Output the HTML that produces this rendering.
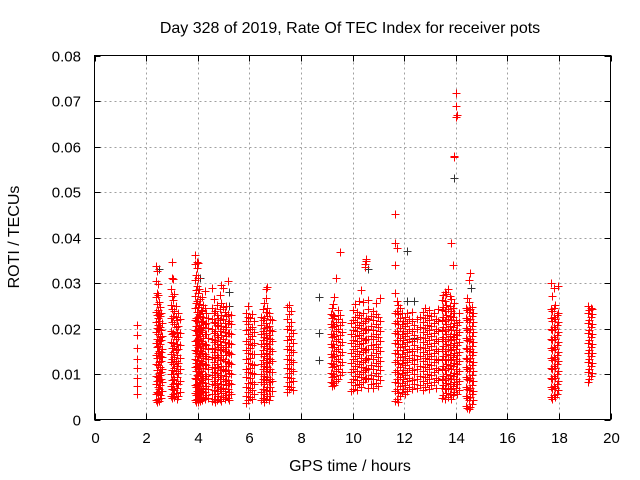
<!DOCTYPE html>
<html><head><meta charset="utf-8"><style>
html,body{margin:0;padding:0;background:#fff;}
svg{display:block;font-family:"Liberation Sans",sans-serif;}
</style></head><body>
<svg id="chart" width="640" height="480" viewBox="0 0 640 480">
<text x="350" y="33" text-anchor="middle" font-size="16">Day 328 of 2019, Rate Of TEC Index for receiver pots</text>
<text x="350" y="471" text-anchor="middle" font-size="16">GPS time / hours</text>
<text transform="translate(19,237) rotate(-90)" text-anchor="middle" font-size="16">ROTI / TECUs</text>
<g id="grid"></g>
<g id="ticks"></g>
<g id="black"></g>
<g id="red"></g>
<rect x="94.5" y="55.5" width="516" height="364" fill="none" stroke="#000" stroke-width="1"/>
</svg>
<script>
const xTicks=[0,2,4,6,8,10,12,14,16,18,20];
const yTicks=[0,0.01,0.02,0.03,0.04,0.05,0.06,0.07,0.08];
const yTickLabels=["0","0.01","0.02","0.03","0.04","0.05","0.06","0.07","0.08"];
// red series: each row = [hour, ROTI values in 0.001 TECU/min ...]
const redColumns=[
[1.65,5.6,7.3,9.1,11.4,13.2,15.7,18.6,20.8],
[2.38,4.2,5.7,7.9,9.6,12.3,14.1,16.8,19.2,21.5,23.7,26.9,30.4,33.8],
[2.42,3.9,6.1,8.4,10.8,13.5,15.9,17.6,20.1,22.9,25.3,27.8,32.6],
[2.46,4.6,5.9,7.1,9.3,11.9,14.6,16.2,18.9,20.7,22.4,24.1,27.3,29.8],
[2.5,4.1,6.8,8.7,10.2,12.7,15.1,17.3,19.8,21.6,23.2,25.9],
[2.54,5.3,7.6,9.8,11.6,13.9,16.5,18.1,20.4,22.7,24.8],
[2.58,4.7,6.3,8.9,10.5,12.9,14.8,17.4,19.6,23.3],
[2.62,6.2,8.2,11.1,13.7,15.4,18.3,21.2],
[2.95,5.1,7.4,9.9,12.6,14.4,17.1,19.5,22.2,25.1,28.6],
[3.0,4.8,6.7,8.6,10.9,13.3,15.8,18.7,21.4,24.3,27.1,31.2,34.7],
[3.05,5.5,7.8,10.1,12.2,14.9,16.9,19.1,22.8,26.2,30.8],
[3.1,4.9,6.4,8.8,11.3,13.8,16.1,18.4,20.9,23.8,27.6],
[3.15,5.8,8.1,10.6,12.8,15.2,17.7,20.3,22.6,24.9],
[3.2,4.5,6.9,9.4,11.7,14.2,16.6,19.3,21.8],
[3.25,5.2,7.7,10.3,12.4,15.6,18.2,20.6,23.4],
[3.32,6.0,8.5,11.0,13.6,16.3,19.0,22.1],
[3.88,4.3,5.8,7.5,9.2,11.5,13.4,15.3,17.2,19.7,21.9,24.5,27.2,30.6,34.1,36.2],
[3.92,3.8,5.4,7.2,8.9,10.7,12.5,14.7,16.4,18.5,20.5,22.3,25.6,28.4,31.7],
[3.96,4.4,6.2,7.8,9.7,11.8,13.1,15.0,17.5,19.4,21.7,23.6,26.1,29.3,33.4,34.6],
[4.0,3.9,5.6,7.4,9.5,11.2,13.9,15.9,17.8,19.9,22.5,24.7,27.9,31.1,34.3],
[4.04,4.6,6.5,8.3,10.4,12.1,14.3,16.7,18.8,20.8,23.1,25.4,28.7],
[4.08,4.1,5.9,8.0,9.9,12.0,14.5,16.2,18.3,20.2,22.8,26.5],
[4.12,4.8,6.6,8.6,10.6,12.9,15.1,17.3,19.6,21.4,24.0],
[4.16,4.2,6.3,8.2,10.1,12.4,14.6,16.9,19.2,21.6,23.9,27.0],
[4.22,5.0,7.0,9.1,11.3,13.6,15.8,18.0,20.4,22.6,25.2],
[4.28,4.4,6.1,8.1,10.0,12.2,14.4,16.6,18.7,21.0,24.4,28.2],
[4.34,5.3,7.3,9.6,11.9,14.0,16.4,18.9,21.3,23.5],
[4.4,4.7,6.8,8.9,11.1,13.3,15.5,17.9,20.1,22.2],
[4.55,4.0,5.7,7.7,9.8,11.6,13.8,15.7,17.6,20.0,22.1,24.6,28.9],
[4.62,4.5,6.4,8.4,10.5,12.7,14.9,17.0,19.1,21.5,23.3,26.4],
[4.68,3.9,5.5,7.6,9.4,11.4,13.5,15.6,17.4,19.5,21.2,23.8],
[4.74,4.3,6.2,8.0,10.2,12.3,14.2,16.5,18.6,20.7,22.9,25.1],
[4.8,5.1,7.1,9.3,11.5,13.7,15.9,18.2,20.5,22.4],
[4.86,4.6,6.7,8.8,10.9,13.0,15.2,17.2,19.4,21.8,24.2,27.4],
[4.92,4.1,5.8,7.9,9.7,11.8,14.1,16.3,18.5,20.6,23.0,25.7,29.6],
[4.98,5.0,6.9,9.0,11.2,13.4,15.4,17.7,19.8,22.0,24.8,28.8],
[5.04,4.4,6.3,8.5,10.7,12.8,15.0,17.1,19.3,21.1,23.6],
[5.1,5.4,7.5,9.5,11.7,14.1,16.0,18.4,20.3,22.7,25.0],
[5.16,4.8,6.6,8.7,10.8,12.6,14.8,16.8,19.0,21.3,23.2,30.4],
[5.22,4.2,6.0,8.1,10.3,12.4,14.6,16.9,19.1,21.7],
[5.28,5.6,7.7,9.9,12.1,14.3,16.5,18.8,21.0,22.9],
[5.88,3.6,5.2,7.2,9.3,11.1,13.2,15.3,17.3,19.6,21.7,23.4],
[5.95,4.3,6.0,8.1,10.4,12.5,14.6,16.6,18.8,20.9,22.6,24.9],
[6.02,5.0,7.0,9.2,11.4,13.5,15.7,17.8,20.0,22.3],
[6.1,4.6,6.4,8.3,10.3,12.2,14.3,16.4,18.3,20.4,23.1],
[6.18,5.6,7.8,9.9,12.0,14.4,16.9,19.2,21.6],
[6.45,4.2,6.1,8.2,10.1,12.3,14.5,16.5,18.7,20.8,22.5],
[6.52,4.8,6.7,8.8,11.0,13.1,15.2,17.4,19.5,21.9,24.3],
[6.58,3.9,5.6,7.7,9.6,11.7,13.9,16.1,18.2,20.2,22.4,25.6],
[6.64,4.5,6.5,8.6,10.6,12.7,14.7,16.8,19.1,21.2,23.7,26.8,28.6],
[6.7,5.2,7.2,9.4,11.5,13.6,15.8,18.0,20.3,22.8,24.6,29.1],
[6.76,4.3,6.2,8.3,10.4,12.4,14.4,16.6,18.6,20.6,23.3],
[6.82,5.1,7.1,9.0,11.2,13.2,15.4,17.6,19.7,22.1],
[6.88,6.3,8.4,10.5,12.8,15.1,17.3,19.5,21.8],
[7.48,6.0,7.4,9.3,11.3,13.4,15.6,17.5,19.9,22.0,24.7],
[7.55,6.6,8.2,10.2,12.1,14.2,16.2,18.4,20.5,23.2,25.1],
[7.62,7.1,9.1,11.0,13.0,15.3,17.7,19.6,21.4,23.8],
[7.7,6.4,8.5,10.6,12.6,14.8,16.9,19.0],
[9.15,8.2,10.3,12.4,14.5,16.7,18.8,21.0,23.1],
[9.2,7.4,9.4,11.6,13.7,15.9,18.1,20.3,22.4,24.6],
[9.25,8.0,10.1,12.3,14.4,16.6,18.7,20.9,23.0,25.3],
[9.3,7.6,9.6,11.8,13.9,16.0,18.3,20.6,22.7,26.9],
[9.35,8.5,10.7,12.9,15.0,17.2,19.4,21.5,31.2],
[9.42,9.0,11.1,13.3,15.5,17.6,19.8,22.0,24.1],
[9.5,9.7,11.9,14.1,16.3,18.6,20.8,22.9,36.9],
[9.58,10.5,12.6,14.9,17.1,19.3,21.4],
[9.95,6.2,8.3,10.4,12.5,14.6,16.8,18.9,21.1],
[10.02,6.8,8.9,11.0,13.2,15.4,17.5,19.7,21.9,24.0],
[10.1,7.5,9.6,11.8,14.0,16.1,18.3,20.4,22.6,25.4],
[10.18,6.5,8.6,10.7,12.8,15.0,17.2,19.4,21.5,23.6],
[10.26,7.9,10.0,12.2,14.3,16.5,18.6,20.8,23.0,26.1],
[10.34,7.2,9.3,11.5,13.6,15.8,17.9,20.1,22.3,28.4],
[10.42,8.3,10.4,12.6,14.8,16.9,19.1,21.3,23.4,25.8],
[10.48,8.8,10.9,13.1,15.2,17.4,19.6,21.7,34.2,33.5],
[10.54,9.2,11.3,13.5,15.6,17.8,19.9,22.2,34.8,35.3],
[10.6,7.0,9.1,11.2,13.4,15.5,17.7,19.8,22.0,24.2,26.3],
[10.7,7.7,9.8,12.0,14.1,16.3,18.4,20.6,22.8],
[10.8,6.9,9.0,11.1,13.3,15.4,17.6,19.7,21.8,23.9],
[10.9,8.1,10.2,12.4,14.6,16.7,18.9,21.0,23.2,25.5],
[11.0,7.4,9.5,11.7,13.8,16.0,18.1,20.3,22.5],
[11.08,8.6,10.8,12.9,15.1,17.3,19.4,21.6,26.7],
[11.65,4.1,6.2,8.3,10.4,12.6,14.7,16.9,19.0,21.2,23.4,27.8,33.9,38.7,45.1],
[11.72,4.6,6.7,8.8,10.9,13.1,15.2,17.4,19.5,21.7,23.8,26.0,37.6],
[11.78,3.9,5.9,8.0,10.1,12.3,14.4,16.6,18.7,20.9,23.1,25.2],
[11.84,5.2,7.3,9.4,11.6,13.7,15.9,18.0,20.2,22.4,24.5],
[11.9,6.0,8.1,10.2,12.4,14.5,16.7,18.8,21.0,23.3],
[11.96,6.7,8.8,10.9,13.1,15.2,17.4,19.5,21.7],
[12.02,5.5,7.6,9.7,11.9,14.0,16.2,18.3,20.5,22.6],
[12.1,6.3,8.4,10.5,12.7,14.8,17.0,19.1,21.3,23.5],
[12.2,7.1,9.2,11.3,13.5,15.6,17.8,19.9,22.1],
[12.3,6.6,8.7,10.8,13.0,15.1,17.3,19.4,21.6,23.7],
[12.4,7.8,9.9,12.1,14.2,16.4,18.5,20.7],
[12.5,6.9,9.0,11.2,13.3,15.5,17.6,19.8,22.0],
[12.6,7.5,9.6,11.7,13.9,16.0,18.2,20.3,22.5],
[12.75,6.4,8.5,10.6,12.8,14.9,17.1,19.2,21.4,23.6],
[12.82,7.2,9.3,11.5,13.6,15.8,17.9,20.1,22.2,24.4],
[12.9,8.0,10.1,12.2,14.4,16.5,18.7,20.8,23.0],
[12.98,6.8,8.9,11.0,13.2,15.3,17.5,19.6,21.8,24.1],
[13.06,7.6,9.7,11.9,14.0,16.2,18.3,20.5,22.7],
[13.14,8.3,10.4,12.6,14.7,16.9,19.0,21.2,23.3],
[13.22,7.0,9.1,11.3,13.4,15.6,17.7,19.9,22.1],
[13.3,8.7,10.8,13.0,15.1,17.3,19.4,21.6,24.2],
[13.45,4.8,6.9,9.0,11.1,13.3,15.4,17.6,19.7,21.9,24.1,26.2],
[13.52,5.4,7.5,9.6,11.8,13.9,16.1,18.2,20.4,22.5,24.7,27.3],
[13.58,4.5,6.6,8.7,10.8,13.0,15.1,17.3,19.4,21.6,23.8,26.0,28.1],
[13.64,5.9,8.0,10.1,12.3,14.4,16.6,18.7,20.9,23.0,25.2,27.6],
[13.7,4.9,7.0,9.1,11.3,13.4,15.6,17.7,19.9,22.0,24.3,28.6],
[13.76,5.6,7.7,9.8,12.0,14.1,16.3,18.4,20.6,22.8,24.9,27.1],
[13.82,4.6,6.7,8.8,11.0,13.1,15.3,17.4,19.6,21.8,23.9,26.4,38.8],
[13.88,5.3,7.4,9.5,11.7,13.8,16.0,18.1,20.3,22.5,24.6,34.0],
[13.94,6.1,8.2,10.3,12.5,14.6,16.8,18.9,21.1,23.3,25.5,57.6,58.0],
[14.0,6.9,9.0,11.1,13.3,15.4,17.6,19.7,21.9,66.5,69.0,71.8],
[14.06,5.7,7.8,9.9,12.1,14.2,16.4,18.5,20.7,67.0],
[14.12,6.4,8.5,10.6,12.8,14.9,17.1,19.2,21.4,23.5],
[14.38,3.0,5.1,7.2,9.3,11.5,13.6,15.8,17.9,20.1,22.3,24.4],
[14.44,2.6,4.7,6.8,8.9,11.1,13.2,15.4,17.5,19.7,21.9,24.0,26.8],
[14.5,2.2,4.3,6.4,8.6,10.7,12.9,15.0,17.2,19.3,21.5,23.7,25.8,30.6],
[14.56,2.8,4.9,7.0,9.2,11.3,13.5,15.6,17.8,19.9,22.1,24.2,32.1],
[14.62,3.4,5.5,7.6,9.8,11.9,14.1,16.2,18.4,20.5,22.7,24.8],
[14.68,4.2,6.3,8.4,10.6,12.7,14.9,17.0,19.2,21.4,23.5],
[17.68,5.0,7.1,9.2,11.4,13.5,15.7,17.8,20.0,22.2,24.3,29.9],
[17.74,4.6,6.7,8.8,11.0,13.1,15.3,17.4,19.6,21.7,23.9,27.2],
[17.8,5.3,7.4,9.5,11.7,13.8,16.0,18.1,20.3,22.5,24.6,28.9],
[17.86,4.9,7.0,9.1,11.3,13.4,15.6,17.7,19.9,22.0,25.1],
[17.92,5.7,7.8,9.9,12.1,14.2,16.4,18.5,20.7,22.9],
[17.98,6.4,8.5,10.6,12.8,14.9,17.1,19.2,21.4,23.5,29.4],
[19.12,8.3,10.4,12.6,14.7,16.9,19.0,21.2,23.4,25.0],
[19.18,8.9,11.0,13.2,15.3,17.5,19.6,21.8,24.0],
[19.24,9.6,11.7,13.9,16.0,18.2,20.3,22.5,24.6],
[19.3,10.3,12.4,14.6,16.7,18.9,21.0,23.2,24.3]];
// black series (mostly hidden beneath red): [hour, values...]
const blackColumns=[[2.5,33],[4.1,31],[5.2,28,25],[8.7,27,19,13],[10.6,33,22],[12.1,26,37],[12.4,26,18],[13.95,53],[14.6,29]];

const NS="http://www.w3.org/2000/svg";
const X0=94.5,X1=610.5,Y0=419.5,Y1=55.5;
function xs(v){return X0+(v-0)/(20-0)*(X1-X0);}
function ys(v){return Y0-(v-0)/(0.08-0)*(Y0-Y1);}
const grid=document.getElementById('grid'),ticks=document.getElementById('ticks');
function line(p,x1,y1,x2,y2,st,dash){const l=document.createElementNS(NS,'line');l.setAttribute('x1',x1);l.setAttribute('y1',y1);l.setAttribute('x2',x2);l.setAttribute('y2',y2);l.setAttribute('stroke',st);if(dash)l.setAttribute('stroke-dasharray',dash);p.appendChild(l);return l;}
function text(p,x,y,s,anchor){const t=document.createElementNS(NS,'text');t.setAttribute('x',x);t.setAttribute('y',y);t.setAttribute('font-size','15');t.setAttribute('text-anchor',anchor);t.textContent=s;p.appendChild(t);return t;}
xTicks.forEach((v,i)=>{const x=Math.round(xs(v))+0.5;
 if(i>0&&i<xTicks.length-1){const g=line(grid,x,Y0,x,Y1,'#a0a0a0','2,3');
 
 }
 line(ticks,x,Y0,x,Y0-6,'#000');line(ticks,x,Y1,x,Y1+6,'#000');
 const t=text(ticks,x,443,String(v),'middle');
 
 });
yTicks.forEach((v,i)=>{const y=Math.round(ys(v))+0.5;
 if(i>0&&i<yTicks.length-1){const g=line(grid,X0,y,X1,y,'#a0a0a0','2,3');
 
 }
 line(ticks,X0,y,X0+6,y,'#000');line(ticks,X1,y,X1-6,y,'#000');
 const t=text(ticks,81,y+5,yTickLabels[i],'end');
 
 });
function plot(gid,rows,col,name){const g=document.getElementById(gid);let d='';
 rows.forEach(r=>{const h=r[0];r.slice(1).forEach(v=>{const x=Math.round(xs(h))+0.5,y=Math.round(ys(v/1000))+0.5;
  d+=`M${x-4} ${y}H${x+4}M${x} ${y-4}V${y+4}`;});});
 const p=document.createElementNS(NS,'path');p.setAttribute('d',d);p.setAttribute('stroke',col);p.setAttribute('fill','none');
 
 
 g.appendChild(p);}
plot('black',blackColumns,'#333','black-points');
plot('red',redColumns,'#ff0000','red-points');
</script>
</body></html>
